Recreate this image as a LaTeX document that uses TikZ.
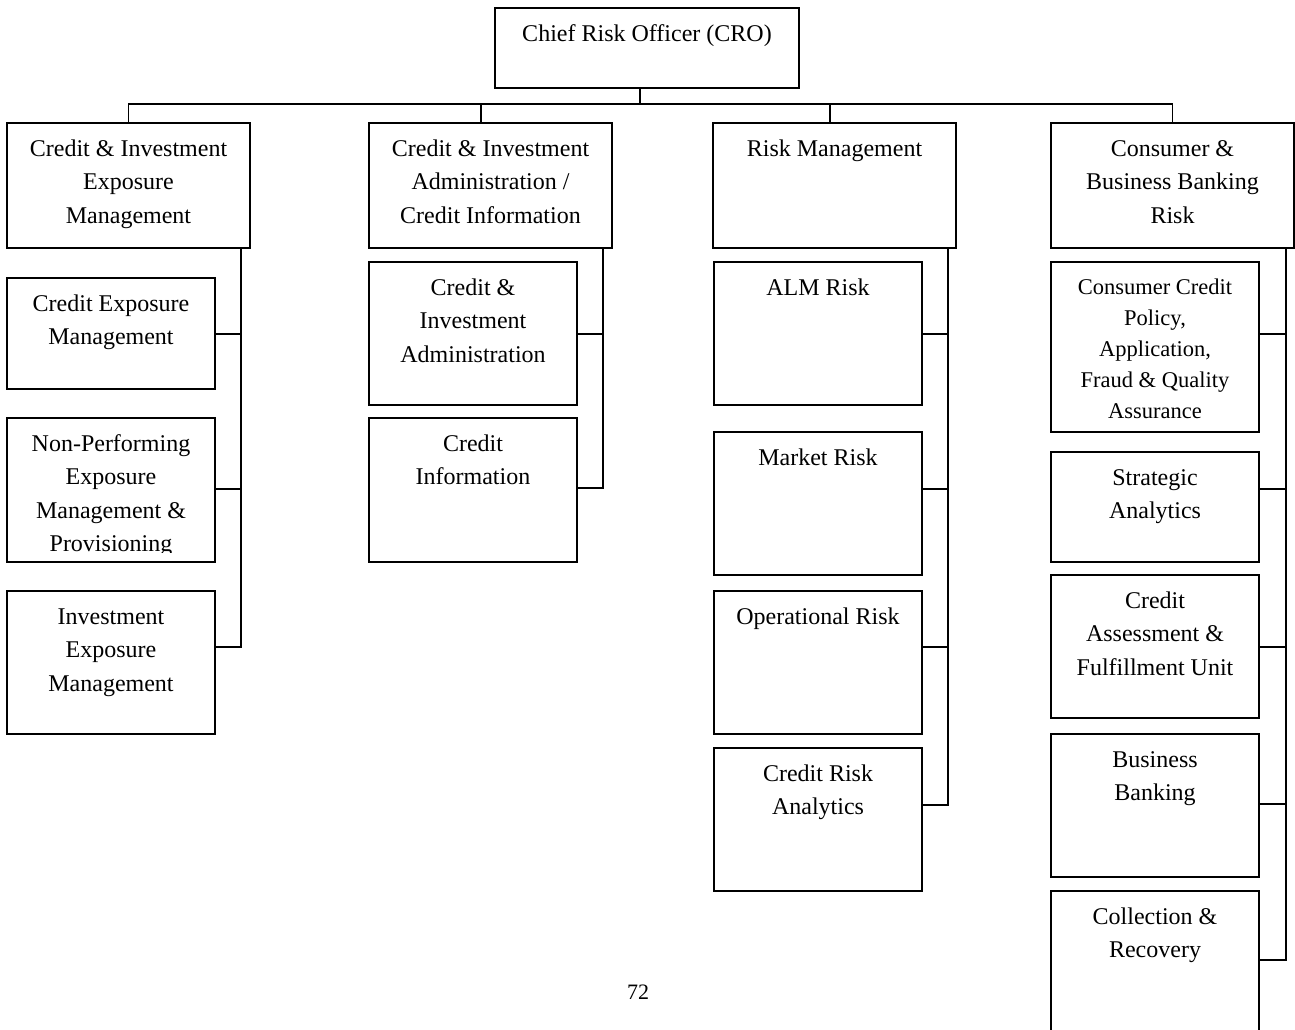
\documentclass[tikz,border=0pt]{standalone}
\usepackage{fontspec}
\setmainfont{Liberation Serif}
\usetikzlibrary{calc,fit}
\newcommand\mystrutA{\rule{0pt}{24pt}}
\newcommand\mystrutB{\rule{0pt}{22.5pt}}
\begin{document}
\begin{tikzpicture}[x=1pt,y=-1pt,
  box/.style={draw, line width=1.8pt, rectangle, inner sep=0pt},
  lbl/.style={anchor=north, align=center, inner sep=0pt, font=\fontsize{24}{33.5}\selectfont},
  sml/.style={anchor=north, align=center, inner sep=0pt, font=\fontsize{22.5}{31}\selectfont},
  conn/.style={line width=1.8pt}]
\useasboundingbox (0,0) rectangle (1295,1029);
\clip (0,0) rectangle (1295,1029);
\fill[white] (0,0) rectangle (1295,1029);

% boxes
\node[box, fit={(495,8) (799,88)}] (cro) {};
\node[box, fit={(7,123) (250,248)}] (A) {};
\node[box, fit={(369,123) (612,248)}] (B) {};
\node[box, fit={(713,123) (956,248)}] (C) {};
\node[box, fit={(1051,123) (1294,248)}] (D) {};

\node[box, fit={(7,278) (215,389)}] (A1) {};
\node[box, fit={(7,418) (215,562)}] (A2) {};
\node[box, fit={(7,591) (215,734)}] (A3) {};
\node[box, fit={(369,262) (577,405)}] (B1) {};
\node[box, fit={(369,418) (577,562)}] (B2) {};
\node[box, fit={(714,262) (922,405)}] (C1) {};
\node[box, fit={(714,432) (922,575)}] (C2) {};
\node[box, fit={(714,591) (922,734)}] (C3) {};
\node[box, fit={(714,748) (922,891)}] (C4) {};
\node[box, fit={(1051,262) (1259,432)}] (D1) {};
\node[box, fit={(1051,452) (1259,562)}] (D2) {};
\node[box, fit={(1051,575) (1259,718)}] (D3) {};
\node[box, fit={(1051,734) (1259,877)}] (D4) {};
\node[box, fit={(1051,891) (1259,1045)}] (D5) {};

% labels
\node[lbl] (tcro) at ($(cro.north)+(0,10.5)$) {\mystrutA Chief Risk Officer (CRO)};
\node[lbl] (tA) at ($(A.north)+(0,10)$) {\mystrutA Credit \& Investment\\Exposure\\Management};
\node[lbl] (tB) at ($(B.north)+(0,10)$) {\mystrutA Credit \& Investment\\Administration /\\Credit Information};
\node[lbl] (tC) at ($(C.north)+(0,10)$) {\mystrutA Risk Management};
\node[lbl] (tD) at ($(D.north)+(0,10)$) {\mystrutA Consumer \&\\Business Banking\\Risk};

\node[lbl] (tA1) at ($(A1.north)+(0,10)$) {\mystrutA Credit Exposure\\Management};
\begin{scope}
\clip (7,418) rectangle (215,552);
\node[lbl] (tA2) at ($(A2.north)+(0,10)$) {\mystrutA Non-Performing\\Exposure\\Management \&\\Provisioning};
\end{scope}
\node[lbl] (tA3) at ($(A3.north)+(0,10)$) {\mystrutA Investment\\Exposure\\Management};
\node[lbl] (tB1) at ($(B1.north)+(0,10)$) {\mystrutA Credit \&\\Investment\\Administration};
\node[lbl] (tB2) at ($(B2.north)+(0,10)$) {\mystrutA Credit\\Information};
\node[lbl] (tC1) at ($(C1.north)+(0,10)$) {\mystrutA ALM Risk};
\node[lbl] (tC2) at ($(C2.north)+(0,10)$) {\mystrutA Market Risk};
\node[lbl] (tC3) at ($(C3.north)+(0,10)$) {\mystrutA Operational Risk};
\node[lbl] (tC4) at ($(C4.north)+(0,10)$) {\mystrutA Credit Risk\\Analytics};
\node[sml] (tD1) at ($(D1.north)+(0,10.5)$) {\mystrutB Consumer Credit\\Policy,\\Application,\\Fraud \& Quality\\Assurance};
\node[lbl] (tD2) at ($(D2.north)+(0,10)$) {\mystrutA Strategic\\Analytics};
\node[lbl] (tD3) at ($(D3.north)+(0,10)$) {\mystrutA Credit\\Assessment \&\\Fulfillment Unit};
\node[lbl] (tD4) at ($(D4.north)+(0,10)$) {\mystrutA Business\\Banking};
\node[lbl] (tD5) at ($(D5.north)+(0,10)$) {\mystrutA Collection \&\\Recovery};

\node[font=\fontsize{22}{26}\selectfont, inner sep=0pt] (pg) at (638,992) {72};

% top-level connectors
\coordinate (bus) at (0,104);
\coordinate (crod) at ($(cro.south)+(-7,0)$);
\coordinate (Bd) at ($(B.north)+(-9.5,0)$);
\coordinate (Cd) at ($(C.north)+(-4.5,0)$);
\draw[conn] (crod) -- (crod |- bus);
\draw[conn] (A.north) -- (A.north |- bus) -- (D.north |- bus) -- (D.north);
\draw[conn] (Bd) -- (Bd |- bus);
\draw[conn] (Cd) -- (Cd |- bus);

% spines
\coordinate (sa) at ($(A.south east)+(-10,0)$);
\coordinate (sb) at ($(B.south east)+(-10,0)$);
\coordinate (sc) at ($(C.south east)+(-9,0)$);
\coordinate (sd) at ($(D.south east)+(-9,0)$);

\coordinate (A1c) at ($(A1.north east)+(0,57)$);
\coordinate (A2c) at ($(A2.north east)+(0,72)$);
\coordinate (A3c) at ($(A3.north east)+(0,57)$);
\coordinate (B1c) at ($(B1.north east)+(0,73)$);
\coordinate (B2c) at ($(B2.north east)+(0,71)$);
\coordinate (C1c) at ($(C1.north east)+(0,73)$);
\coordinate (C2c) at ($(C2.north east)+(0,58)$);
\coordinate (C3c) at ($(C3.north east)+(0,57)$);
\coordinate (C4c) at ($(C4.north east)+(0,58)$);
\coordinate (D1c) at ($(D1.north east)+(0,73)$);
\coordinate (D2c) at ($(D2.north east)+(0,38)$);
\coordinate (D3c) at ($(D3.north east)+(0,73)$);
\coordinate (D4c) at ($(D4.north east)+(0,71)$);
\coordinate (D5c) at ($(D5.north east)+(0,70)$);

\draw[conn] (sa) |- (A3c);
\draw[conn] (A1c) -- (A1c -| sa);
\draw[conn] (A2c) -- (A2c -| sa);

\draw[conn] (sb) |- (B2c);
\draw[conn] (B1c) -- (B1c -| sb);

\draw[conn] (sc) |- (C4c);
\draw[conn] (C1c) -- (C1c -| sc);
\draw[conn] (C2c) -- (C2c -| sc);
\draw[conn] (C3c) -- (C3c -| sc);

\draw[conn] (sd) |- (D5c);
\draw[conn] (D1c) -- (D1c -| sd);
\draw[conn] (D2c) -- (D2c -| sd);
\draw[conn] (D3c) -- (D3c -| sd);
\draw[conn] (D4c) -- (D4c -| sd);
\end{tikzpicture}
\end{document}
